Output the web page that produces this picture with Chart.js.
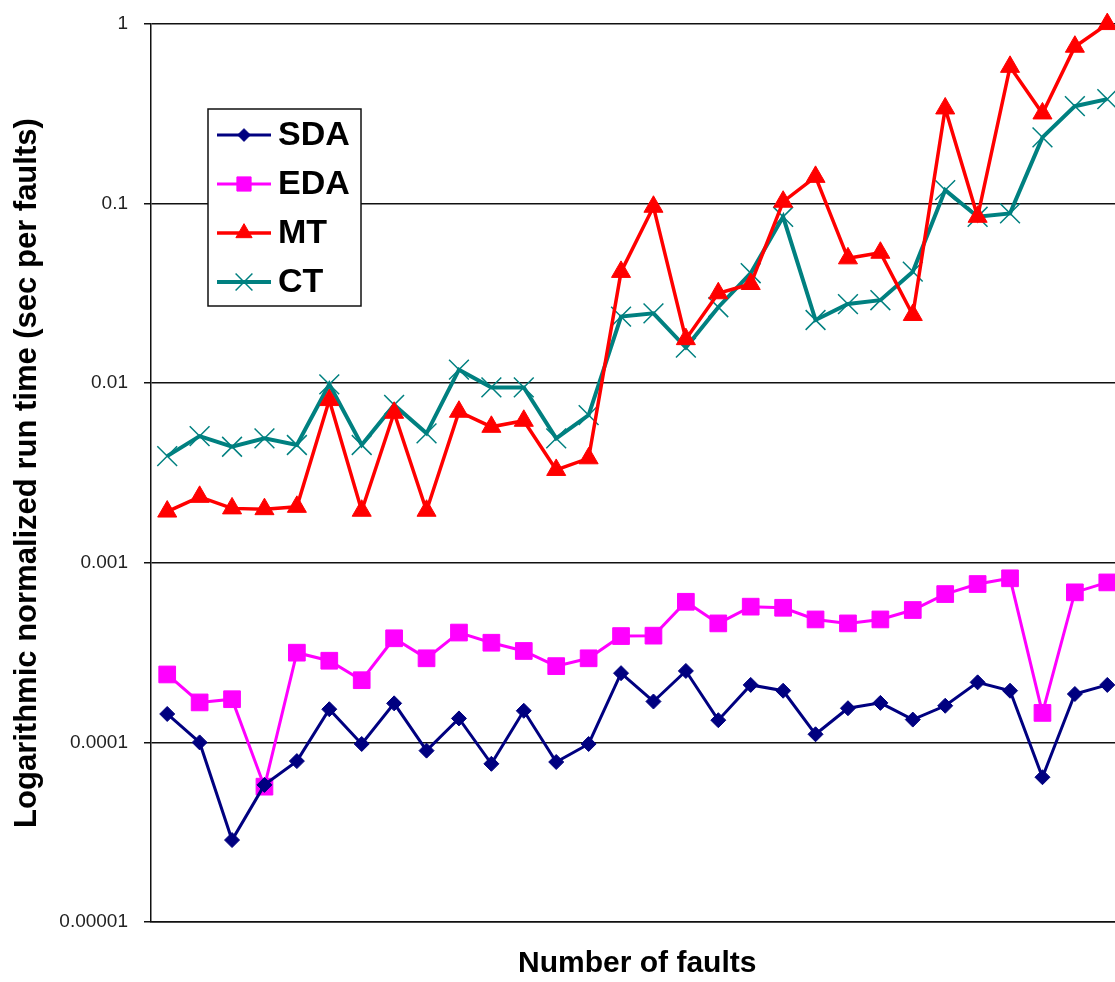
<!DOCTYPE html>
<html>
<head>
<meta charset="utf-8">
<title>Run time per fault</title>
<script src="https://cdn.jsdelivr.net/npm/chart.js@4.4.1/dist/chart.umd.min.js"></script>
<style>
  html, body { margin: 0; padding: 0; background: #fff; overflow: hidden; }
  #wrap { width: 1139px; height: 982px; }
</style>
</head>
<body>
<div id="wrap"><canvas id="runTimeChart" width="1139" height="982"></canvas></div>
<script>
const faultCases = ['1', '2', '3', '4', '5', '6', '7', '8', '9', '10',
  '11', '12', '13', '14', '15', '16', '17', '18', '19', '20',
  '21', '22', '23', '24', '25', '26', '27', '28', '29', '30'];

const sdaTimes = [1.44e-4, 1.0e-4, 2.86e-5, 5.8e-5, 7.87e-5, 1.53e-4, 9.8e-5, 1.65e-4, 9.0e-5, 1.36e-4,
  7.6e-5, 1.50e-4, 7.78e-5, 9.8e-5, 2.43e-4, 1.69e-4, 2.50e-4, 1.33e-4, 2.09e-4, 1.94e-4,
  1.11e-4, 1.55e-4, 1.66e-4, 1.34e-4, 1.60e-4, 2.16e-4, 1.94e-4, 6.4e-5, 1.86e-4, 2.09e-4];

const edaTimes = [2.39e-4, 1.67e-4, 1.74e-4, 5.67e-5, 3.16e-4, 2.85e-4, 2.22e-4, 3.80e-4, 2.94e-4, 4.09e-4,
  3.59e-4, 3.23e-4, 2.66e-4, 2.94e-4, 3.91e-4, 3.93e-4, 6.07e-4, 4.60e-4, 5.70e-4, 5.62e-4,
  4.84e-4, 4.60e-4, 4.84e-4, 5.46e-4, 6.70e-4, 7.62e-4, 8.20e-4, 1.46e-4, 6.85e-4, 7.78e-4];

const mtTimes = [1.93e-3, 2.33e-3, 2.01e-3, 1.99e-3, 2.05e-3, 8.06e-3, 1.95e-3, 6.85e-3, 1.95e-3, 6.94e-3,
  5.72e-3, 6.18e-3, 3.29e-3, 3.82e-3, 4.17e-2, 9.61e-2, 1.76e-2, 3.17e-2, 3.57e-2, 0.1025,
  0.141, 4.96e-2, 5.33e-2, 2.40e-2, 0.339, 8.45e-2, 0.578, 0.318, 0.748, 1.0];

const ctTimes = [3.93e-3, 5.08e-3, 4.43e-3, 4.93e-3, 4.53e-3, 9.86e-3, 4.53e-3, 7.57e-3, 5.26e-3, 1.19e-2,
  9.48e-3, 9.48e-3, 4.93e-3, 6.65e-3, 2.35e-2, 2.45e-2, 1.58e-2, 2.65e-2, 4.1e-2, 8.45e-2,
  2.25e-2, 2.76e-2, 2.90e-2, 4.18e-2, 0.119, 8.45e-2, 8.83e-2, 0.234, 0.349, 0.382];

const yTickValues = [0.00001, 0.0001, 0.001, 0.01, 0.1, 1];
const yTickLabels = ['0.00001', '0.0001', '0.001', '0.01', '0.1', '1'];

const FONT = "'Liberation Sans', Arial, sans-serif";

// legend drawn inside the plot, like the original
const innerLegend = {
  id: 'innerLegend',
  afterDraw(chart) {
    const ctx = chart.ctx;
    const box = { x: 208, y: 109, w: 153, h: 197 };
    ctx.save();
    ctx.fillStyle = '#fff';
    ctx.fillRect(box.x, box.y, box.w, box.h);
    ctx.strokeStyle = '#111';
    ctx.lineWidth = 1.5;
    ctx.strokeRect(box.x, box.y, box.w, box.h);

    chart.data.datasets.forEach((ds, i) => {
      const y = 135 + i * 49;
      ctx.strokeStyle = ds.borderColor;
      ctx.lineWidth = ds.borderWidth;
      ctx.beginPath();
      ctx.moveTo(217, y);
      ctx.lineTo(271, y);
      ctx.stroke();

      ctx.fillStyle = ds.pointBackgroundColor;
      ctx.strokeStyle = ds.pointBorderColor;
      ctx.lineWidth = ds.pointBorderWidth;
      Chart.helpers.drawPoint(ctx, {
        pointStyle: ds.pointStyle,
        radius: ds.pointRadius * 0.85,
        rotation: 0,
        borderWidth: ds.pointBorderWidth
      }, 244, y);

      ctx.fillStyle = '#000';
      ctx.font = 'bold 34px ' + FONT;
      ctx.textAlign = 'left';
      ctx.textBaseline = 'middle';
      ctx.fillText(ds.label, 278, y + 1);
    });
    ctx.restore();
  }
};

new Chart(document.getElementById('runTimeChart'), {
  type: 'line',
  data: {
    labels: faultCases,
    datasets: [
      { label: 'SDA', data: sdaTimes, borderColor: '#000080', borderWidth: 3,
        pointStyle: 'rectRot', pointRadius: 7.5, pointBackgroundColor: '#000080',
        pointBorderColor: '#000080', pointBorderWidth: 1 },
      { label: 'EDA', data: edaTimes, borderColor: '#ff00ff', borderWidth: 3,
        pointStyle: 'rect', pointRadius: 11.8, pointBackgroundColor: '#ff00ff',
        pointBorderColor: '#ff00ff', pointBorderWidth: 1 },
      { label: 'MT', data: mtTimes, borderColor: '#ff0000', borderWidth: 3.5,
        pointStyle: 'triangle', pointRadius: 11, pointBackgroundColor: '#ff0000',
        pointBorderColor: '#ff0000', pointBorderWidth: 1 },
      { label: 'CT', data: ctTimes, borderColor: '#008080', borderWidth: 4,
        pointStyle: 'crossRot', pointRadius: 14, pointBackgroundColor: '#008080',
        pointBorderColor: '#008080', pointBorderWidth: 1.5 }
    ]
  },
  options: {
    responsive: false,
    animation: false,
    layout: { padding: { top: 24, right: 2, left: 0, bottom: 0 } },
    elements: { line: { tension: 0 } },
    datasets: { line: { clip: false } },
    plugins: {
      legend: { display: false },
      tooltip: { enabled: false }
    },
    scales: {
      x: {
        type: 'category',
        offset: true,
        grid: { display: false },
        border: { display: true, color: '#111', width: 1.5 },
        ticks: { display: false },
        title: {
          display: true,
          text: 'Number of faults',
          color: '#000',
          font: { family: FONT, size: 30, weight: 'bold' },
          padding: { top: 24, bottom: 0 }
        },
        afterFit: (scale) => { scale.height = 60; }
      },
      y: {
        type: 'logarithmic',
        min: 0.00001,
        max: 1,
        afterBuildTicks: (scale) => {
          scale.ticks = yTickValues.map(v => ({ value: v }));
        },
        afterFit: (scale) => { scale.width = 151; },
        grid: { color: '#111', lineWidth: 1.5, tickLength: 7, tickColor: '#111' },
        border: { display: true, color: '#111', width: 1.5 },
        ticks: {
          color: '#222',
          padding: 16,
          font: { family: FONT, size: 19, lineHeight: 0.85 },
          callback: (value) => {
            const i = yTickValues.findIndex(v => Math.abs(v - value) / v < 1e-6);
            return i >= 0 ? yTickLabels[i] : '';
          }
        },
        title: {
          display: true,
          text: 'Logarithmic normalized run time (sec per faults)',
          color: '#000',
          font: { family: FONT, size: 31, weight: 'bold' },
          padding: { top: 9, bottom: 0 }
        }
      }
    }
  },
  plugins: [innerLegend]
});
</script>
</body>
</html>
